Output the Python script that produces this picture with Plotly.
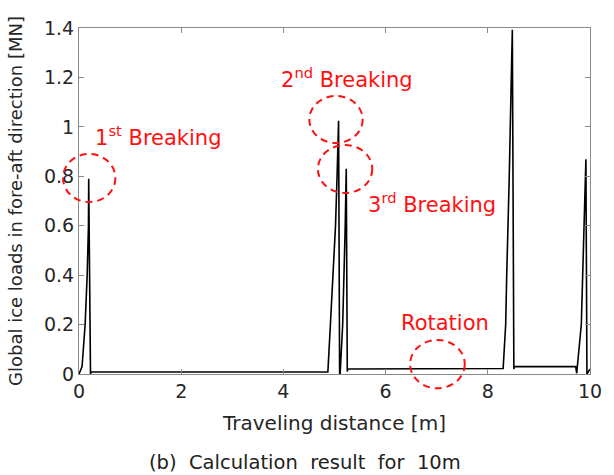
import plotly.graph_objects as go

# ---- data ----
distance = [0.0, 0.06, 0.12, 0.16, 0.185, 0.19, 0.225, 0.235,
            4.86, 4.87, 4.92, 4.97, 5.02, 5.05, 5.08, 5.10,
            5.11, 5.16, 5.19, 5.21, 5.23, 5.25, 5.26,
            8.30, 8.35, 8.37, 8.40, 8.42, 8.44, 8.46, 8.48, 8.51, 8.52,
            9.72, 9.74, 9.83, 9.86, 9.88, 9.92, 9.94, 9.97, 10.0]
ice_load = [0.0, 0.03, 0.2, 0.4, 0.6, 0.79, 0.0, 0.008,
            0.008, 0.008, 0.2, 0.4, 0.6, 0.8, 1.025, 0.0,
            0.0, 0.2, 0.4, 0.6, 0.83, 0.01, 0.02,
            0.022, 0.2, 0.4, 0.6, 0.8, 1.0, 1.2, 1.393, 0.02, 0.03,
            0.03, 0.003, 0.2, 0.4, 0.6, 0.869, 0.0, 0.01, 0.02]

x_ticks = [0, 2, 4, 6, 8, 10]
y_ticks = [0, 0.2, 0.4, 0.6, 0.8, 1.0, 1.2, 1.4]
y_tick_labels = ["0", "0.2", "0.4", "0.6", "0.8", "1", "1.2", "1.4"]

labels = ["1<sup>st</sup> Breaking", "2<sup>nd</sup> Breaking",
          "3<sup>rd</sup> Breaking", "Rotation"]
label_x = [1.54, 5.25, 6.905, 7.153]
label_y = [0.962, 1.196, 0.690, 0.208]

# circles in paper coordinates (x0, x1, y0, y1)
circles = [(-0.0313, 0.0712, 0.497, 0.636),
           (0.4507, 0.5551, 0.6676, 0.8035),
           (0.4675, 0.5739, 0.5231, 0.6618),
           (0.648, 0.7549, -0.0413, 0.0983)]

FONT = "DejaVu Sans"
RED = "#ff1010"

fig = go.Figure()
fig.add_trace(go.Scatter(x=distance, y=ice_load, mode="lines",
                         line=dict(color="black", width=1.6),
                         showlegend=False, hoverinfo="skip"))

for t, x, y in zip(labels, label_x, label_y):
    fig.add_annotation(x=x, y=y, xref="x", yref="y", text=t, showarrow=False,
                       font=dict(family=FONT, size=21, color=RED),
                       xanchor="center", yanchor="middle")

for (x0, x1, y0, y1) in circles:
    fig.add_shape(type="circle", xref="paper", yref="paper",
                  x0=x0, x1=x1, y0=y0, y1=y1,
                  line=dict(color=RED, width=2, dash="7px,5px"))

fig.add_annotation(x=0.442, y=-0.257, xref="paper", yref="paper",
                   text="(b)  Calculation  result  for  10m", showarrow=False,
                   font=dict(family=FONT, size=19.5, color="#222222"),
                   xanchor="center", yanchor="middle")

axis_common = dict(showgrid=False, zeroline=False, showline=True,
                   linecolor="#8a8a8a", linewidth=1, mirror="ticks",
                   ticks="inside", ticklen=5, tickcolor="#8a8a8a",
                   tickfont=dict(family=FONT, size=19, color="#262626"))

fig.update_layout(
    width=614, height=475,
    margin=dict(l=79, r=18, t=28, b=101),
    paper_bgcolor="white", plot_bgcolor="white",
    xaxis=dict(range=[0, 10], tickvals=x_ticks,
               title=dict(text="Traveling distance [m]",
                          font=dict(family=FONT, size=20, color="#262626"),
                          standoff=15),
               **axis_common),
    yaxis=dict(range=[0, 1.4], tickvals=y_ticks, ticktext=y_tick_labels,
               title=dict(text="Global ice loads in fore-aft direction [MN]",
                          font=dict(family=FONT, size=18, color="#262626"),
                          standoff=16),
               **axis_common),
)

fig.write_html("out.html")
